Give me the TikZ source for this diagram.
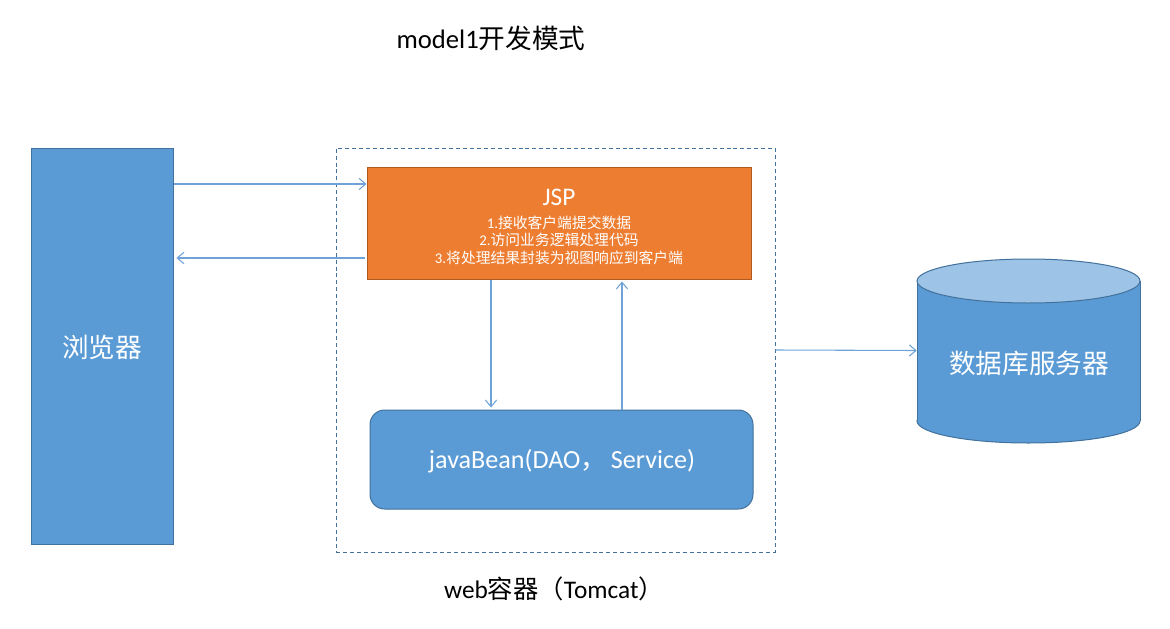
\documentclass[tikz,border=0pt]{standalone}
\usepackage{fontspec}
\setmainfont{Carlito}
\newfontfamily\cjk{Noto Sans CJK SC}
\usetikzlibrary{arrows.meta,calc}
\definecolor{boxblue}{HTML}{5B9BD5}
\definecolor{boxedge}{HTML}{41719C}
\definecolor{arrowblue}{HTML}{6FA3D8}
\definecolor{jspfill}{HTML}{ED7D31}
\definecolor{jspedge}{HTML}{AE5A21}
\definecolor{dbtop}{HTML}{9DC3E6}
\tikzset{
  conn/.style={draw=arrowblue, line width=0.8pt, -{Straight Barb[length=5pt,width=8.5pt]}},
  bluebox/.style={rectangle, fill=boxblue, draw=boxedge, line width=0.75pt, inner sep=0pt},
  orangebox/.style={rectangle, fill=jspfill, draw=jspedge, line width=0.75pt, inner sep=0pt},
  container/.style={rectangle, draw=boxedge, line width=0.75pt, dash pattern=on 3pt off 2.2pt, inner sep=0pt},
  whitetext/.style={text=white, inner sep=0pt},
  blacktext/.style={text=black, inner sep=0pt},
}
\begin{document}
\begin{tikzpicture}[x=0.75pt,y=-0.75pt]
\useasboundingbox (0,0) rectangle (1170,628);
% title
\node[blacktext, font=\fontsize{20}{24}\selectfont] (title) at (491,38) {model1{\cjk 开发模式}};
% browser
\node[bluebox, minimum width=142*0.75pt, minimum height=396*0.75pt] (browser) at (102,346) {};
\node[whitetext, font=\fontsize{20}{24}\selectfont\cjk] (browserlabel) at (102,347) {浏览器};
% container
\node[container, minimum width=439*0.75pt, minimum height=404*0.75pt] (webc) at (555.5,350) {};
\node[blacktext, font=\fontsize{19}{22}\selectfont] (weblabel) at (554,589) {web{\cjk 容器（}Tomcat{\cjk ）}};
% JSP
\node[orangebox, minimum width=384*0.75pt, minimum height=112*0.75pt] (jsp) at (559,223) {};
\node[whitetext, font=\fontsize{19}{22}\selectfont] (jsptitle) at (559,197) {JSP};
\node[whitetext, font=\fontsize{11.1}{13.1}\selectfont, align=center] (jsptext) at (559,240)
  {1.{\cjk 接收客户端提交数据}\\2.{\cjk 访问业务逻辑处理代码}\\3.{\cjk 将处理结果封装为视图响应到客户端}};
% javaBean
\node[bluebox, rounded corners=11pt, minimum width=383*0.75pt, minimum height=99*0.75pt] (bean) at (561.5,459.5) {};
\node[whitetext, font=\fontsize{19.6}{22}\selectfont] (beanlabel) at (562,461) {javaBean(DAO{\cjk ，}\,Service)};
% database cylinder
\node[inner sep=0pt, minimum width=223*0.75pt, minimum height=185*0.75pt] (db) at (1028.5,350.5) {};
\fill[boxblue, draw=boxedge, line width=0.75pt] (1028.5,421) ellipse [x radius=111.5, y radius=22];
\fill[boxblue] (917,281) rectangle (1140,421);
\draw[boxedge, line width=0.75pt] (917,281) -- (917,421) (1140,281) -- (1140,421);
\filldraw[fill=dbtop, draw=boxedge, line width=0.75pt] (1028.5,281) ellipse [x radius=111.5, y radius=22];
\node[whitetext, font=\fontsize{20}{24}\selectfont\cjk] (dblabel) at (1029,363) {数据库服务器};
% connectors
\coordinate (a1) at (jsp.west |- 0,184);
\coordinate (a2) at (jsp.west |- 0,258);
\coordinate (d1) at (jsp.south -| 491,0);
\coordinate (u1) at (bean.north -| 622,0);
\draw[conn] (browser.east |- a1) -- (a1);
\draw[conn, shorten <=1.5pt, shorten >=2.2pt] (a2) -- (browser.east |- a2);
\draw[conn, shorten >=1.5pt] (d1) -- (bean.north -| d1);
\draw[conn, shorten >=1.5pt] (u1) -- (jsp.south -| u1);
\draw[conn] (webc.east) -- (db.west);
\end{tikzpicture}
\end{document}
